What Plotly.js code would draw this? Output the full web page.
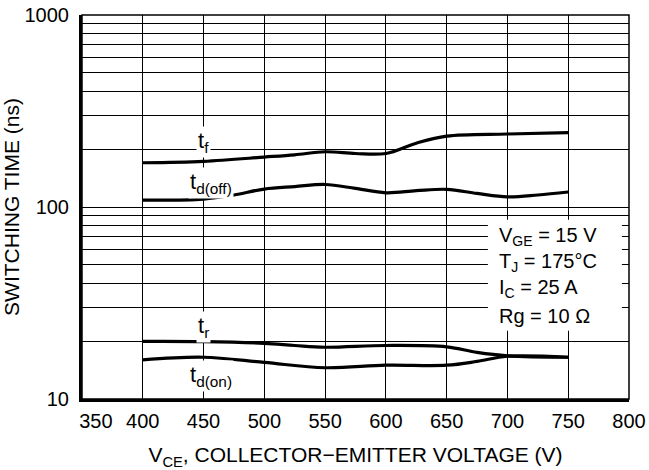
<!DOCTYPE html>
<html>
<head>
<meta charset="utf-8">
<script src="https://cdn.plot.ly/plotly-3.0.1.min.js"></script>
<style>html,body{margin:0;padding:0;background:#fff;}#chart{width:649px;height:470px;}</style>
</head>
<body>
<div id="chart"></div>
<script>
// Data
var vceTf = [400, 450, 500, 525, 550, 575, 600, 625, 650, 700, 750];
var tf    = [170, 173, 182, 187, 194, 190, 190, 215, 234, 240, 244];

var vceTdoff = [400, 450, 475, 500, 525, 550, 575, 600, 625, 650, 675, 700, 725, 750];
var tdoff    = [108.7, 110, 115.5, 124, 127.7, 131, 125, 118.6, 121.6, 123.6, 117.7, 113, 115.5, 119.7];

var vceTr = [400, 450, 500, 525, 550, 600, 650, 675, 700, 750];
var tr    = [19.95, 19.9, 19.5, 19.0, 18.6, 19.0, 18.7, 17.5, 16.8, 16.5];

var vceTdon = [400, 450, 500, 550, 600, 650, 675, 700, 750];
var tdon    = [16.0, 16.5, 15.5, 14.55, 15.0, 15.0, 15.7, 16.7, 16.5];

var xTicks = [350, 400, 450, 500, 550, 600, 650, 700, 750, 800];
var xTickText = ['\u00a0\u00a0\u00a0\u00a0\u00a0350', '400', '450', '500', '550', '600', '650', '700', '750', '800'];
var yTickVals = [10,20,30,40,50,60,70,80,90,100,200,300,400,500,600,700,800,900,1000];
var yTickText = ['10','','','','','','','','','100','','','','','','','','','1000'];

var curveLabels = [
  {x: 450, y: 217, text: 't<sub>f</sub>'},
  {x: 456, y: 133, text: 't<sub>d(off)</sub>'},
  {x: 450, y: 23.6, text: 't<sub>r</sub>'},
  {x: 456, y: 13.2, text: 't<sub>d(on)</sub>'}
];
var conditions = ['V<sub>GE</sub> = 15 V', 'T<sub>J</sub> = 175°C', 'I<sub>C</sub> = 25 A', 'Rg = 10 Ω'];

var FONT = 'Liberation Sans, Arial, sans-serif';
var lineStyle = {color: '#000', width: 3.2, shape: 'spline', smoothing: 1};

var traces = [
  {x: vceTf, y: tf, mode: 'lines', line: lineStyle, hoverinfo: 'skip'},
  {x: vceTdoff, y: tdoff, mode: 'lines', line: lineStyle, hoverinfo: 'skip'},
  {x: vceTr, y: tr, mode: 'lines', line: lineStyle, hoverinfo: 'skip'},
  {x: vceTdon, y: tdon, mode: 'lines', line: lineStyle, hoverinfo: 'skip'}
];

var annotations = curveLabels.map(function(l){
  return {x: l.x, y: Math.log10(l.y), xref: 'x', yref: 'y', text: l.text, showarrow: false,
          bgcolor: '#fff', borderpad: 1, font: {family: FONT, size: 22, color: '#000'}};
});
var condY = [0.4223, 0.3547, 0.287, 0.2168];
conditions.forEach(function(t, i){
  annotations.push({x: 0.759, y: condY[i], xref: 'paper', yref: 'paper', xanchor: 'left', yanchor: 'middle',
    text: t, showarrow: false, font: {family: FONT, size: 20, color: '#000'}});
});

var layout = {
  width: 649, height: 470,
  margin: {l: 82, r: 20, t: 15, b: 71},
  paper_bgcolor: '#fff', plot_bgcolor: '#fff',
  showlegend: false,
  font: {family: FONT, size: 20, color: '#000'},
  xaxis: {
    range: [350, 800], tickvals: xTicks, ticktext: xTickText,
    showgrid: true, gridcolor: '#000', gridwidth: 1,
    showline: true, linecolor: '#000', linewidth: 3,
    zeroline: false, ticks: '', ticklabelstandoff: 2,
    tickfont: {family: FONT, size: 20, color: '#000'},
    title: {text: 'V<sub>CE</sub>, COLLECTOR−EMITTER VOLTAGE (V)', font: {family: FONT, size: 21, color: '#000'}, standoff: 17}
  },
  yaxis: {
    type: 'log', range: [1, 3], tickvals: yTickVals, ticktext: yTickText,
    showgrid: true, gridcolor: '#000', gridwidth: 1,
    showline: true, linecolor: '#000', linewidth: 3,
    zeroline: false, ticks: '', ticklabelstandoff: 6,
    tickfont: {family: FONT, size: 20, color: '#000'},
    title: {text: 'SWITCHING TIME (ns)', font: {family: FONT, size: 21, color: '#000'}, standoff: 0}
  },
  shapes: [
    {type: 'rect', xref: 'paper', yref: 'paper', x0: 0, x1: 1, y0: 0, y1: 1,
     line: {color: '#000', width: 1.5}, layer: 'above'},
    {type: 'rect', xref: 'paper', yref: 'paper', x0: 0.742, x1: 0.987, y0: 0.178, y1: 0.4666,
     fillcolor: '#fff', line: {width: 0}, layer: 'above'}
  ],
  annotations: annotations
};

Plotly.newPlot('chart', traces, layout, {staticPlot: true, displayModeBar: false});
</script>
</body>
</html>
